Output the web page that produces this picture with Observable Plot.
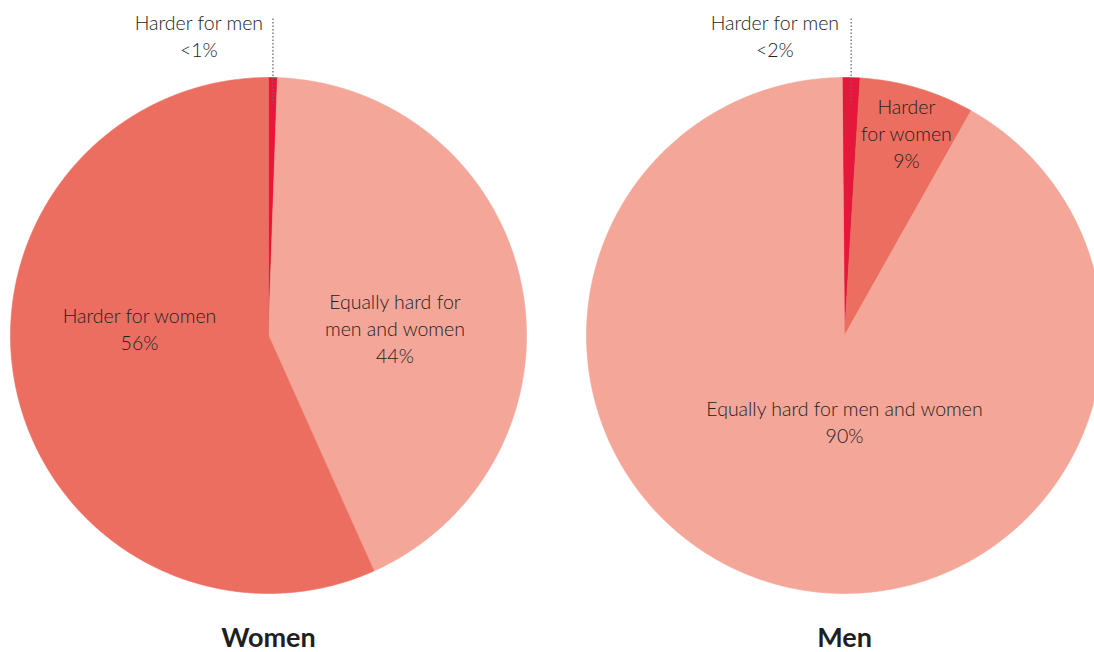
<!DOCTYPE html>
<html>
<head>
<meta charset="utf-8">
<script src="https://cdn.jsdelivr.net/npm/d3@7"></script>
<script src="https://cdn.jsdelivr.net/npm/@observablehq/plot@0.6"></script>
<style>
  html, body { margin: 0; padding: 0; background: #fff; }
  #chart svg { display: block; }
</style>
</head>
<body>
<div id="chart"></div>
<script>
// ---- data ----
const pieTitles = ["Women", "Men"];
const categories = ["Harder for men", "Equally hard for men and women", "Harder for women"];
const categoryColors = ["#E5183C", "#F4A698", "#EC6E61"];
// slice order (clockwise from 12 o'clock) for each pie
const womenOrder = ["Harder for men", "Equally hard for men and women", "Harder for women"];
const womenValues = [0.55, 42.75, 56.7];
const womenLabels = ["Harder for men\n<1%", "Equally hard for\nmen and women\n44%", "Harder for women\n56%"];
const menOrder = ["Harder for men", "Harder for women", "Equally hard for men and women"];
const menValues = [1.1, 7.2, 91.7];
const menLabels = ["Harder for men\n<2%", "Harder\nfor women\n9%", "Equally hard for men and women\n90%"];

// ---- layout ----
const W = 1094, H = 652;
const R = 258;
const pies = [
  {title: pieTitles[0], order: womenOrder, values: womenValues, labels: womenLabels, cx: 268, cy: 335, start: 0,
   labelPos: [[-0.27, -1.164], [0.49, -0.031], [-0.50, -0.03]]},
  {title: pieTitles[1], order: menOrder, values: menValues, labels: menLabels, cx: 844, cy: 335, start: -0.5,
   labelPos: [[-0.27, -1.164], [0.24, -0.787], [0.0, 0.331]]}
];
const colorOf = c => categoryColors[categories.indexOf(c)];

const marks = [];
const toRad = d => d * Math.PI / 180;
for (const p of pies) {
  const pie = d3.pie().sort(null).value(d => d).startAngle(toRad(p.start)).endAngle(toRad(p.start) + 2 * Math.PI);
  const arcs = pie(p.values);
  arcs.forEach((a, i) => {
    const pts = [{x: p.cx, y: p.cy}];
    const n = Math.max(2, Math.ceil((a.endAngle - a.startAngle) / toRad(0.5)));
    for (let k = 0; k <= n; k++) {
      const t = a.startAngle + (a.endAngle - a.startAngle) * k / n;
      pts.push({x: p.cx + R * Math.sin(t), y: p.cy - R * Math.cos(t)});
    }
    pts.push({x: p.cx, y: p.cy});
    const col = colorOf(p.order[i]);
    marks.push(Plot.line(pts, {x: "x", y: "y", fill: col, stroke: col, strokeWidth: 0.6, curve: "linear"}));
  });
  // leader line for the tiny slice
  const a0 = arcs[0];
  const mid = (a0.startAngle + a0.endAngle) / 2;
  const lx = p.cx + R * Math.sin(mid);
  marks.push(Plot.link([{x1: lx, y1: 18, x2: lx, y2: p.cy - R * 0.9 * Math.cos(mid)}], {
    x1: "x1", y1: "y1", x2: "x2", y2: "y2", stroke: "#6b6b6b", strokeWidth: 1.3, strokeDasharray: "1.5,2"
  }));
  // labels
  const labelData = p.labels.map((t, i) => ({
    text: t,
    x: p.cx + p.labelPos[i][0] * R,
    y: p.cy + p.labelPos[i][1] * R
  }));
  marks.push(Plot.text(labelData, {
    x: "x", y: "y", text: "text", fill: "#222", fontSize: 19.5, lineHeight: 1.37,
    lineAnchor: "middle", textAnchor: "middle", fontWeight: 300
  }));
  marks.push(Plot.text([{t: p.title, x: p.cx, y: 638}], {
    x: "x", y: "y", text: "t", fill: "#1f1f1f", fontSize: 27, fontWeight: 700, lineAnchor: "middle"
  }));
}

const chart = Plot.plot({
  width: W, height: H,
  margin: 0,
  x: {type: "linear", domain: [0, W], range: [0, W], axis: null},
  y: {type: "linear", domain: [0, H], range: [0, H], axis: null},
  style: {fontFamily: "Lato, 'Open Sans', sans-serif", background: "#fff"},
  marks
});
document.getElementById("chart").appendChild(chart);
</script>
</body>
</html>
